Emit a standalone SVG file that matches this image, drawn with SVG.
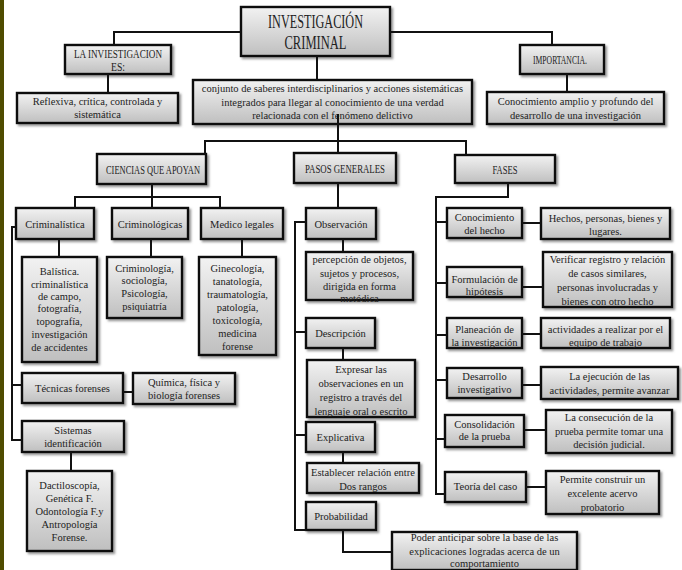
<svg xmlns="http://www.w3.org/2000/svg" width="682" height="570" viewBox="0 0 682 570">
<style>
.b{fill:url(#g);stroke:#111;stroke-width:2.4;filter:url(#sh)}
.c{fill:none;stroke:#111;stroke-width:2}
text{font-family:'Liberation Serif','DejaVu Serif',serif;font-size:10.5px;fill:#222;text-anchor:middle}
.ti{font-size:18px}
.cap{font-size:12.5px}
</style>
<defs>
<linearGradient id="g" x1="0" y1="0" x2="0" y2="1">
<stop offset="0" stop-color="#f2f2f2"/>
<stop offset="1" stop-color="#bfbfbf"/>
</linearGradient>
<filter id="sh" x="-10%" y="-10%" width="130%" height="140%">
<feDropShadow dx="2" dy="2" stdDeviation="1.2" flood-color="#555" flood-opacity="0.6"/>
</filter>
</defs>
<rect x="0" y="0" width="682" height="570" fill="#fff"/>
<rect x="0" y="0" width="4" height="570" fill="#4f4c00"/>

<g font-family="Liberation Serif, DejaVu Serif, serif">
<g id="titulo"><rect class="b" x="241" y="7" width="149" height="49"/>
<text class="ti" x="315.5" y="28" textLength="95" lengthAdjust="spacingAndGlyphs">INVESTIGACIÓN</text>
<text class="ti" x="315.5" y="49" textLength="62" lengthAdjust="spacingAndGlyphs">CRIMINAL</text></g>

<g id="la-investigacion"><rect class="b" x="65" y="45" width="106" height="29"/>
<text class="cap" x="118" y="58" textLength="88" lengthAdjust="spacingAndGlyphs">LA INVIESTIGACION</text><text class="cap" x="118" y="71" textLength="14" lengthAdjust="spacingAndGlyphs">ES:</text></g>

<g id="reflexiva"><rect class="b" x="17" y="93" width="161" height="30"/>
<text x="97.5" y="105">Reflexiva, crítica, controlada y</text><text x="97.5" y="118">sistemática</text></g>

<g id="conjunto"><rect class="b" x="193" y="80" width="279" height="44"/>
<text x="332.5" y="92">conjunto de saberes interdisciplinarios y acciones sistemáticas</text>
<text x="332.5" y="106">integrados para llegar al conocimiento de una verdad</text>
<text x="332.5" y="119">relacionada con el fenómeno delictivo</text></g>

<g id="importancia"><rect class="b" x="520" y="45" width="84" height="29"/>
<text class="cap" x="560" y="64" textLength="54" lengthAdjust="spacingAndGlyphs">IMPORTANCIA.</text></g>

<g id="conocimiento-amplio"><rect class="b" x="487" y="92" width="177" height="32"/>
<text x="575.5" y="105">Conocimiento amplio y profundo del</text><text x="575.5" y="119">desarrollo de una investigación</text></g>

<g id="ciencias"><rect class="b" x="97" y="154" width="109" height="30"/>
<text class="cap" x="153" y="174" textLength="94" lengthAdjust="spacingAndGlyphs">CIENCIAS QUE APOYAN</text></g>

<g id="criminalistica"><rect class="b" x="16" y="208" width="78" height="31"/>
<text x="55" y="228">Criminalística</text></g>
<g id="criminologicas"><rect class="b" x="112" y="208" width="76" height="31"/>
<text x="150" y="228">Criminológicas</text></g>
<g id="medico-legales"><rect class="b" x="201" y="208" width="82" height="31"/>
<text x="242" y="228">Medico legales</text></g>

<g id="balistica"><rect class="b" x="22" y="257" width="75" height="105"/>
<text x="59.5" y="275">Balística.</text><text x="59.5" y="288">criminalística</text><text x="59.5" y="300">de campo,</text><text x="59.5" y="312">fotografía,</text><text x="59.5" y="325">topografía,</text><text x="59.5" y="338">investigación</text><text x="59.5" y="351">de accidentes</text></g>

<g id="criminologia"><rect class="b" x="107" y="257" width="75" height="61"/>
<text x="144.5" y="272">Criminología,</text><text x="144.5" y="284">sociología,</text><text x="144.5" y="297">Psicología,</text><text x="144.5" y="310">psiquiatría</text></g>

<g id="ginecologia"><rect class="b" x="199" y="257" width="77" height="98"/>
<text x="237.5" y="272">Ginecología,</text><text x="237.5" y="285">tanatología,</text><text x="237.5" y="298">traumatología,</text><text x="237.5" y="311">patología,</text><text x="237.5" y="324">toxicología,</text><text x="237.5" y="337">medicina</text><text x="237.5" y="350">forense</text></g>

<g id="tecnicas"><rect class="b" x="22" y="373" width="101" height="30"/>
<text x="72.5" y="392">Técnicas forenses</text></g>
<g id="quimica"><rect class="b" x="133" y="373" width="102" height="31"/>
<text x="184" y="386">Química, física y</text><text x="184" y="399">biología forenses</text></g>

<g id="sistemas"><rect class="b" x="22" y="421" width="102" height="31"/>
<text x="73" y="434">Sistemas</text><text x="73" y="447">identificación</text></g>
<g id="dactiloscopia"><rect class="b" x="27" y="471" width="85" height="80"/>
<text x="69.5" y="489">Dactiloscopía,</text><text x="69.5" y="502">Genética F.</text><text x="69.5" y="515">Odontología F.y</text><text x="69.5" y="528">Antropología</text><text x="69.5" y="541">Forense.</text></g>

<g id="pasos"><rect class="b" x="294" y="153" width="102" height="30"/>
<text class="cap" x="345" y="173" textLength="80" lengthAdjust="spacingAndGlyphs">PASOS GENERALES</text></g>

<g id="observacion"><rect class="b" x="306" y="208" width="70" height="31"/>
<text x="341" y="228">Observación</text></g>
<g id="percepcion"><rect class="b" x="306" y="252" width="107" height="48"/>
<text x="359.5" y="263">percepción de objetos,</text><text x="359.5" y="277">sujetos y procesos,</text><text x="359.5" y="290">dirigida en forma</text><text x="359.5" y="302">metódica</text></g>

<g id="descripcion"><rect class="b" x="306" y="318" width="69" height="30"/>
<text x="340.5" y="337">Descripción</text></g>
<g id="expresar"><rect class="b" x="307" y="360" width="108" height="57"/>
<text x="361" y="373">Expresar las</text><text x="361" y="387">observaciones en un</text><text x="361" y="401">registro a través del</text><text x="361" y="415">lenguaje oral o escrito</text></g>

<g id="explicativa"><rect class="b" x="306" y="422" width="69" height="30"/>
<text x="340.5" y="441">Explicativa</text></g>
<g id="establecer"><rect class="b" x="307" y="463" width="112" height="30"/>
<text x="363" y="476">Establecer relación entre</text><text x="363" y="490">Dos rangos</text></g>

<g id="probabilidad"><rect class="b" x="306" y="502" width="70" height="28"/>
<text x="341" y="520">Probabilidad</text></g>
<g id="poder"><rect class="b" x="392" y="532" width="185" height="38"/>
<text x="484.5" y="541">Poder anticipar sobre la base de las</text><text x="484.5" y="555">explicaciones logradas acerca de un</text><text x="484.5" y="567">comportamiento</text></g>

<g id="fases"><rect class="b" x="455" y="155" width="100" height="28"/>
<text class="cap" x="505" y="174" textLength="25" lengthAdjust="spacingAndGlyphs">FASES</text></g>

<g id="conocimiento-hecho"><rect class="b" x="447" y="208" width="75" height="30"/>
<text x="484.5" y="221">Conocimiento</text><text x="484.5" y="234">del hecho</text></g>
<g id="hechos"><rect class="b" x="541" y="208" width="129" height="31"/>
<text x="605.5" y="222">Hechos, personas, bienes y</text><text x="605.5" y="235">lugares.</text></g>

<g id="formulacion"><rect class="b" x="447" y="267" width="75" height="30"/>
<text x="484.5" y="283">Formulación de</text><text x="484.5" y="295">hipótesis</text></g>
<g id="verificar"><rect class="b" x="543" y="252" width="129" height="55"/>
<text x="607.5" y="263">Verificar registro y relación</text><text x="607.5" y="277">de casos similares,</text><text x="607.5" y="291">personas involucradas y</text><text x="607.5" y="305">bienes con otro hecho</text></g>

<g id="planeacion"><rect class="b" x="447" y="318" width="75" height="30"/>
<text x="484.5" y="333">Planeación de</text><text x="484.5" y="346">la investigación</text></g>
<g id="actividades"><rect class="b" x="541" y="318" width="129" height="30"/>
<text x="605.5" y="333">actividades a realizar por el</text><text x="605.5" y="346">equipo de trabajo</text></g>

<g id="desarrollo"><rect class="b" x="447" y="368" width="75" height="30"/>
<text x="484.5" y="380">Desarrollo</text><text x="484.5" y="393">investigativo</text></g>
<g id="ejecucion"><rect class="b" x="541" y="367" width="137" height="32"/>
<text x="609.5" y="380">La ejecución de las</text><text x="609.5" y="394">actividades, permite avanzar</text></g>

<g id="consolidacion"><rect class="b" x="445" y="415" width="79" height="32"/>
<text x="484.5" y="428">Consolidación</text><text x="484.5" y="440">de la prueba</text></g>
<g id="consecucion"><rect class="b" x="546" y="410" width="126" height="43"/>
<text x="609" y="421">La consecución de la</text><text x="609" y="435">prueba permite tomar una</text><text x="609" y="448">decisión judicial.</text></g>

<g id="teoria"><rect class="b" x="445" y="472" width="81" height="30"/>
<text x="485.5" y="490">Teoría del caso</text></g>
<g id="permite"><rect class="b" x="546" y="471" width="113" height="43"/>
<text x="602.5" y="483">Permite construir un</text><text x="602.5" y="497">excelente acervo</text><text x="602.5" y="511">probatorio</text></g>
</g>

<g id="connectors">
<polyline class="c" points="241,32 114,32 114,45"/>
<polyline class="c" points="390,32 552,32 552,45"/>
<line class="c" x1="108" y1="74" x2="108" y2="93"/>
<line class="c" x1="567" y1="74" x2="567" y2="92"/>
<line class="c" x1="317" y1="56" x2="317" y2="80"/>
<line class="c" x1="338" y1="114" x2="338" y2="153"/>
<polyline class="c" points="205,154 205,141 466,141 466,155"/>
<polyline class="c" points="152,184 152,208"/>
<polyline class="c" points="75,208 75,197 220,197 220,208"/>
<line class="c" x1="59" y1="239" x2="59" y2="257"/>
<line class="c" x1="151" y1="239" x2="151" y2="257"/>
<line class="c" x1="242" y1="239" x2="242" y2="257"/>
<polyline class="c" points="16,227 12,227 12,440 22,440"/>
<line class="c" x1="12" y1="385" x2="22" y2="385"/>
<line class="c" x1="123" y1="392" x2="133" y2="392"/>
<line class="c" x1="71" y1="452" x2="71" y2="471"/>
<line class="c" x1="338" y1="183" x2="338" y2="208"/>
<polyline class="c" points="306,222 295,222 295,530 306,530"/>
<line class="c" x1="295" y1="332" x2="306" y2="332"/>
<line class="c" x1="295" y1="435" x2="306" y2="435"/>
<line class="c" x1="343" y1="239" x2="343" y2="252"/>
<line class="c" x1="343" y1="348" x2="343" y2="360"/>
<line class="c" x1="343" y1="452" x2="343" y2="463"/>
<polyline class="c" points="343,530 343,552 392,552"/>
<polyline class="c" points="508,183 508,197 436,197 436,494 445,494"/>
<line class="c" x1="436" y1="222" x2="447" y2="222"/>
<line class="c" x1="436" y1="283" x2="447" y2="283"/>
<line class="c" x1="436" y1="335" x2="447" y2="335"/>
<line class="c" x1="436" y1="380" x2="447" y2="380"/>
<line class="c" x1="436" y1="439" x2="445" y2="439"/>
<line class="c" x1="522" y1="223" x2="541" y2="223"/>
<line class="c" x1="522" y1="287" x2="543" y2="287"/>
<line class="c" x1="522" y1="334" x2="541" y2="334"/>
<line class="c" x1="522" y1="385" x2="541" y2="385"/>
<line class="c" x1="524" y1="430" x2="546" y2="430"/>
<line class="c" x1="526" y1="487" x2="546" y2="487"/>
</g>
</svg>
